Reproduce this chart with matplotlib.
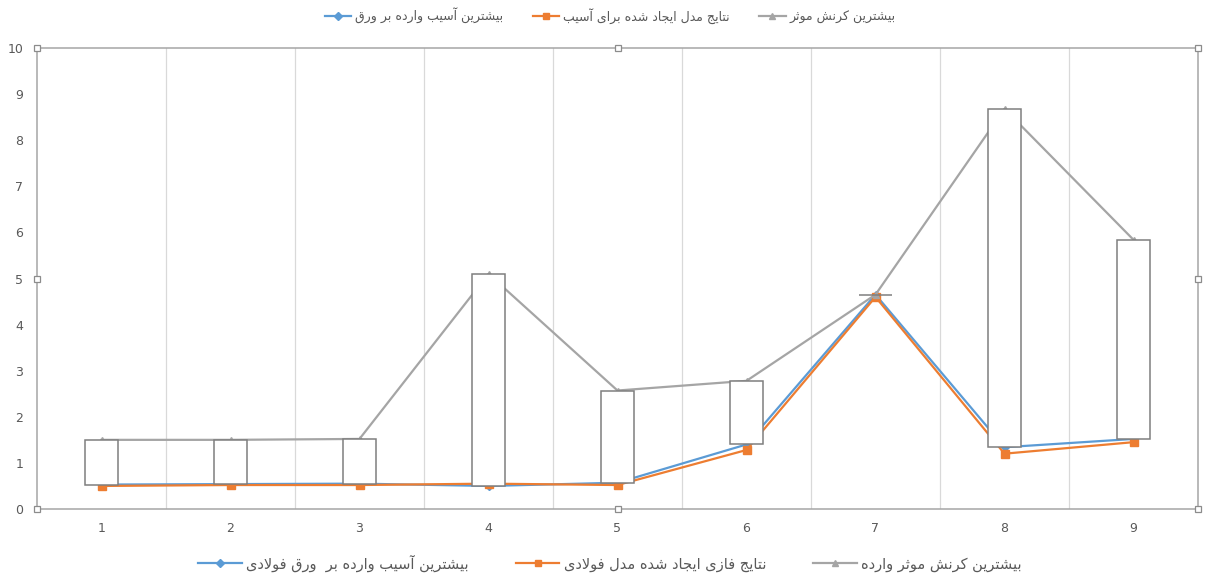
import numpy as np
import matplotlib.pyplot as plt
from matplotlib.lines import Line2D
from matplotlib.patches import Rectangle

# data
cats = [1, 2, 3, 4, 5, 6, 7, 8, 9]
damage = [0.53, 0.54, 0.55, 0.50, 0.57, 1.40, 4.65, 1.34, 1.52]
model = [0.50, 0.52, 0.52, 0.55, 0.52, 1.28, 4.60, 1.20, 1.45]
strain = [1.50, 1.50, 1.52, 5.10, 2.57, 2.78, 4.65, 8.68, 5.84]

top_labels = ['بیشترین آسیب وارده بر ورق',
              'نتایج مدل ایجاد شده برای آسیب',
              'بیشترین کرنش موثر']
bottom_labels = ['بیشترین آسیب وارده بر  ورق فولادی',
                 'نتایج فازی ایجاد شده مدل فولادی',
                 'بیشترین کرنش موثر وارده']

# small persian shaper: contextual forms + right-to-left order
FORMS = {
  'ا': ('\uFE8D', '\uFE8E', None, None),
  'آ': ('\uFE81', '\uFE82', None, None),
  'ب': ('\uFE8F', '\uFE90', '\uFE91', '\uFE92'),
  'ت': ('\uFE95', '\uFE96', '\uFE97', '\uFE98'),
  'ث': ('\uFE99', '\uFE9A', '\uFE9B', '\uFE9C'),
  'ج': ('\uFE9D', '\uFE9E', '\uFE9F', '\uFEA0'),
  'د': ('\uFEA9', '\uFEAA', None, None),
  'ر': ('\uFEAD', '\uFEAE', None, None),
  'ز': ('\uFEAF', '\uFEB0', None, None),
  'س': ('\uFEB1', '\uFEB2', '\uFEB3', '\uFEB4'),
  'ش': ('\uFEB5', '\uFEB6', '\uFEB7', '\uFEB8'),
  'ف': ('\uFED1', '\uFED2', '\uFED3', '\uFED4'),
  'ق': ('\uFED5', '\uFED6', '\uFED7', '\uFED8'),
  'ک': ('\uFB8E', '\uFB8F', '\uFB90', '\uFB91'),
  'ل': ('\uFEDD', '\uFEDE', '\uFEDF', '\uFEE0'),
  'م': ('\uFEE1', '\uFEE2', '\uFEE3', '\uFEE4'),
  'ن': ('\uFEE5', '\uFEE6', '\uFEE7', '\uFEE8'),
  'ه': ('\uFEE9', '\uFEEA', '\uFEEB', '\uFEEC'),
  'و': ('\uFEED', '\uFEEE', None, None),
  'ی': ('\uFBFC', '\uFBFD', '\uFBFE', '\uFBFF'),
}

def shape(text):
  out = []
  n = len(text)
  i = 0
  while i < n:
    c = text[i]
    if c not in FORMS:
      out.append(c)
      i += 1
      continue
    prev = text[i-1] if i > 0 else None
    join_prev = prev in FORMS and FORMS[prev][2] is not None
    if c == 'ل' and i+1 < n and text[i+1] == 'ا':
      out.append('\uFEFC' if join_prev else '\uFEFB')
      i += 2
      continue
    nxt = text[i+1] if i+1 < n else None
    iso, fin, ini, med = FORMS[c]
    join_next = ini is not None and nxt in FORMS
    if join_prev and join_next: g = med
    elif join_prev: g = fin
    elif join_next: g = ini
    else: g = iso
    out.append(g)
    i += 1
  return ''.join(reversed(out))

blue = '#5B9BD5'
orange = '#ED7D31'
gray = '#A5A5A5'
txt = '#595959'

W, H = 1206, 578
fig = plt.figure(figsize=(W/100, H/100), dpi=100)
ax = fig.add_axes([37/W, 1-509/H, (1198-37)/W, (509-48)/H])

ax.plot(cats, damage, color=blue, lw=1.6, marker='D', ms=4.5, zorder=3)
ax.plot(cats, model, color=orange, lw=1.6, marker='s', ms=5.5, zorder=3)
ax.plot(cats, strain, color=gray, lw=1.6, marker='^', ms=5, zorder=3)

# up-down bars between first and last series
bw = 0.25
for x, lo, hi in zip(cats, damage, strain):
  ax.add_patch(Rectangle((x-bw/2, lo), bw, hi-lo, facecolor='white',
                         edgecolor='#7F7F7F', lw=1.1, zorder=4))

ax.set_xlim(0.5, 9.5)
ax.set_ylim(0, 10)
ax.set_yticks(range(0, 11))
ax.set_xticks(cats)
ax.tick_params(length=0, labelsize=9, labelcolor=txt)
ax.tick_params(axis='y', pad=10)
ax.tick_params(axis='x', pad=9)
for b in np.arange(1.5, 9, 1):
  ax.axvline(b, color='#D9D9D9', lw=0.9, zorder=1)
for s in ax.spines.values():
  s.set_color('#A6A6A6')
  s.set_linewidth(1.1)

# selection handles
for hx, hy in [(0, 0), (0.5, 0), (1, 0), (0, 0.5), (1, 0.5), (0, 1), (0.5, 1), (1, 1)]:
  ax.plot(hx, hy, marker='s', ms=5, mfc='white', mec='#8C8C8C', mew=0.9,
          transform=ax.transAxes, clip_on=False, zorder=6)

def handles():
  return [Line2D([], [], color=blue, lw=1.6, marker='D', ms=4),
          Line2D([], [], color=orange, lw=1.6, marker='s', ms=5),
          Line2D([], [], color=gray, lw=1.6, marker='^', ms=4.5)]

leg1 = fig.legend(handles(), [shape(t) for t in top_labels], loc='center',
                  bbox_to_anchor=(610/W, 1-16/H), ncol=3, frameon=False,
                  fontsize=9, handlelength=2.1, columnspacing=2.4,
                  handletextpad=0.3, labelcolor=txt)
leg2 = fig.legend(handles(), [shape(t) for t in bottom_labels], loc='center',
                  bbox_to_anchor=(610/W, 1-563/H), ncol=3, frameon=False,
                  fontsize=10.5, handlelength=3.0, columnspacing=3.2,
                  handletextpad=0.3, labelcolor=txt)

fig.savefig('out.png', dpi=100)
